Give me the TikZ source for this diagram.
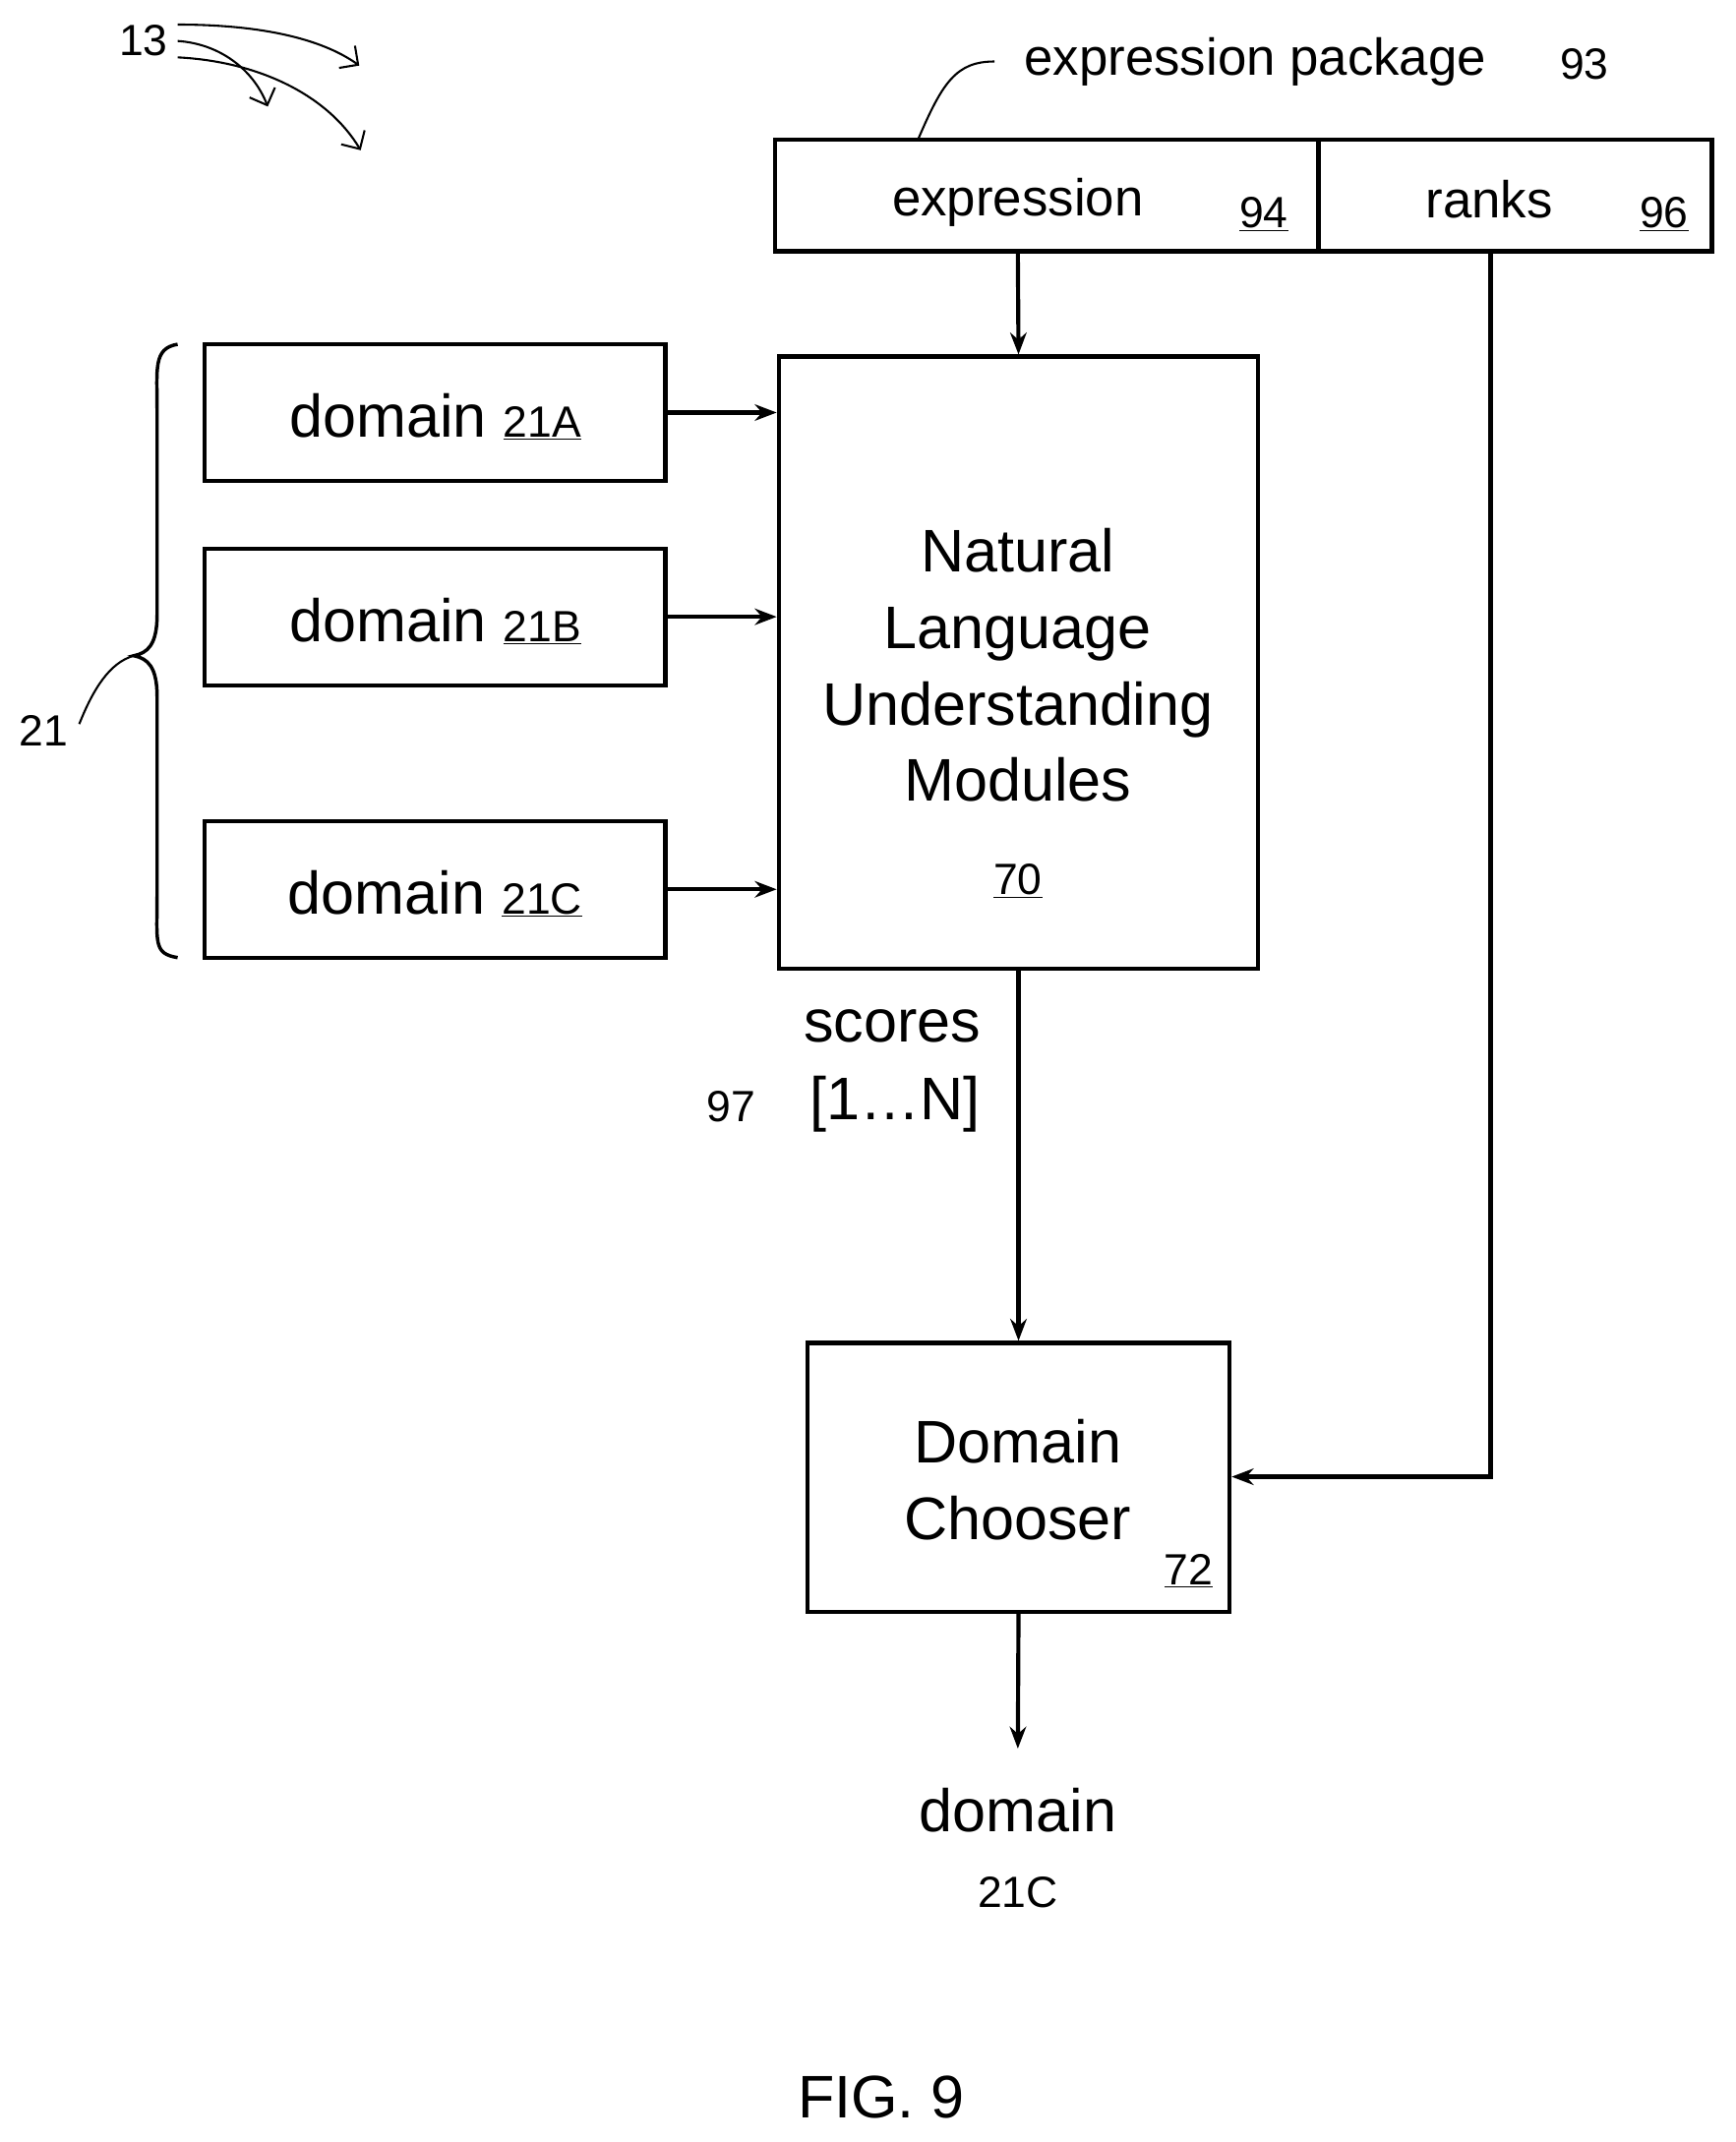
\documentclass[tikz,border=0pt]{standalone}
\usepackage{fontspec}
\setmainfont{Liberation Sans}
\usetikzlibrary{arrows.meta,decorations.pathreplacing}
\begin{document}
\begin{tikzpicture}[x=1pt,y=-1pt,line width=3pt,
 box/.style={draw,line width=3pt},
 arr/.style={-{Stealth[length=16pt,width=12pt]}},
 big/.style={font=\fontsize{44}{56}\selectfont,align=center},
 mid/.style={font=\fontsize{38}{46}\selectfont},
 sm/.style={font=\fontsize{32}{38}\selectfont}]
\useasboundingbox (0,0) rectangle (1270,1568);
% expression package
\draw[box] (567,102) rectangle (965,184) coordinate (e2);
\draw[box] (965,102) rectangle (1253,184);
\node[mid] (ex) at (745,148) {expression};
\node[sm] (n94) at (925,157) {\underline{94}};
\node[mid] (rk) at (1090,146) {ranks};
\node[sm] (n96) at (1218,157) {\underline{96}};
\node[mid,anchor=west] (pk) at (745,45) {expression package};
\node[sm,anchor=west] (n93) at (1137,47) {93};
\draw[line width=1.5pt] (672,102) .. controls (690,60) and (700,45) .. (728,45);
% NLU
\node[box,minimum width=351pt,minimum height=448pt] (nlu) at (745.5,485) {};
\node[big] (nlut) at (745,487) {Natural\\Language\\Understanding\\Modules};
\node[sm] (n70) at (745,645) {\underline{70}};
% domains
\foreach \n/\y in {A/302,B/451.5,C/651}{
 \node[box,minimum width=337pt,minimum height=100pt] (d\n) at (318.5,\y) {};
 \node[big,anchor=base] at (318.5,\y+18) {domain \fontsize{32}{38}\selectfont\underline{21\n}};
 \draw[arr] (d\n.east) -- (nlu.west |- d\n.east);
}
\draw[arr] (745,184) -- (nlu.north);
% brace
\draw[line width=2.5pt] (130,252) .. controls (112,255) and (115,270) .. (115,300) -- (115,450) .. controls (115,472) and (108,478) .. (98,480) .. controls (108,482) and (115,488) .. (115,510) -- (115,655) .. controls (115,690) and (112,698) .. (130,701);
\node[sm] (n21) at (32,535) {21};
\draw[line width=1.5pt] (58,530) .. controls (68,505) and (80,485) .. (98,480);
% scores
\node[big] (sc) at (653,751) {scores};
\node[sm] (n97) at (535,810) {97};
\node[big] (rng) at (655,808) {[1…N]};
% chooser
\node[box,minimum width=309pt,minimum height=197pt] (dc) at (745.5,1081.5) {};
\node[big] (dct) at (745,1083) {Domain\\Chooser};
\node[sm] (n72) at (870,1150) {\underline{72}};
\draw[arr] (nlu.south) -- (dc.north);
\coordinate (rb) at (1091,184);
\draw[arr] (rb) -- (1091,1081) -- (dc.east |- 0,1081);
\coordinate (out) at (745,1280);
\draw[arr] (dc.south) -- (out);
\node[big] (od) at (745,1325) {domain};
\node[sm] (oc) at (745,1385) {21C};
\node[big] (fig) at (645,1535) {FIG. 9};
% 13
\node[sm] (n13) at (105,30) {13};
\draw[line width=1.5pt,-{Straight Barb[length=10pt]}] (130,18) .. controls (190,18) and (235,28) .. (263,48);
\draw[line width=1.5pt,-{Straight Barb[length=10pt]}] (130,30) .. controls (160,32) and (185,50) .. (196,78);
\draw[line width=1.5pt,-{Straight Barb[length=10pt]}] (130,42) .. controls (190,45) and (240,70) .. (264,110);
\end{tikzpicture}
\end{document}
